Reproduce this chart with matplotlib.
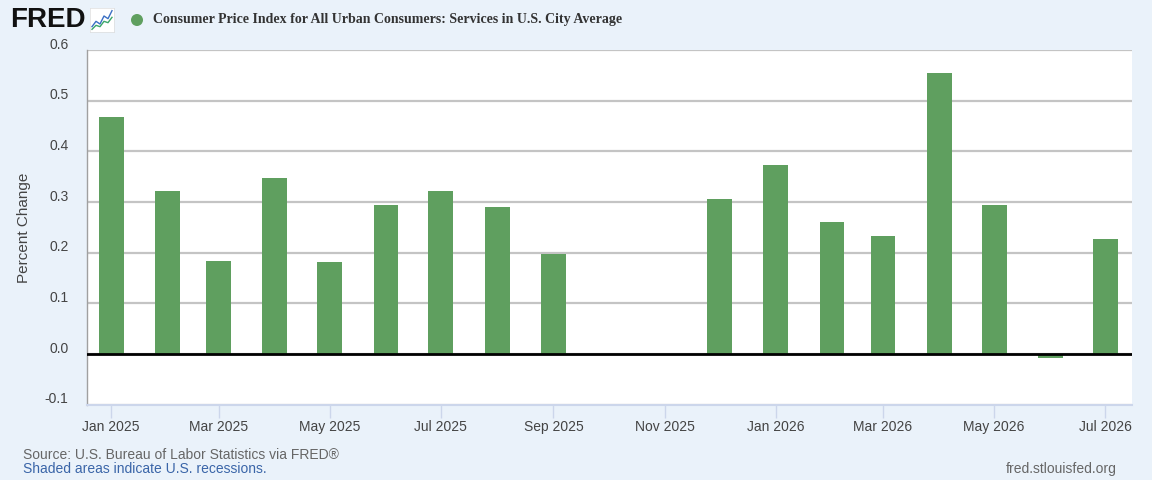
import matplotlib
matplotlib.use('Agg')
import matplotlib.pyplot as plt
import matplotlib.dates as mdates
from matplotlib.transforms import ScaledTranslation
from matplotlib.patches import Ellipse
import datetime as dt

##############################################
##                  Data                    ##
##############################################
months = ['2025-01', '2025-02', '2025-03', '2025-04', '2025-05', '2025-06',
          '2025-07', '2025-08', '2025-09', '2025-10', '2025-11', '2025-12',
          '2026-01', '2026-02', '2026-03', '2026-04', '2026-05', '2026-06',
          '2026-07']
# percent change, None where no observation was published
pct_change = [0.467, 0.322, 0.184, 0.347, 0.182, 0.294,
              0.322, 0.290, 0.197, None, None, 0.305,
              0.374, 0.260, 0.233, 0.554, 0.295, -0.008,
              0.227]

title = 'Consumer Price Index for All Urban Consumers: Services in U.S. City Average'
y_label = 'Percent Change'
source_txt = 'Source: U.S. Bureau of Labor Statistics via FRED\u00ae'
shaded_txt = 'Shaded areas indicate U.S. recessions.'
site_txt = 'fred.stlouisfed.org'

# colors
bg_color = '#eaf2fa'
bar_color = '#5f9f5f'
grid_color = '#c4c4c4'
axis_color = '#ccd6eb'
text_color = '#444444'

plt.rcParams['font.family'] = ['Liberation Sans', 'DejaVu Sans']

dates = [dt.datetime.strptime(m, '%Y-%m') for m in months]
bar_dates = [d for d, v in zip(dates, pct_change) if v is not None]
bar_vals = [v for v in pct_change if v is not None]

##############################################
##                 Figure                   ##
##############################################
fig = plt.figure(figsize=(11.52, 4.8), dpi=100, facecolor=bg_color)
ax = fig.add_axes([0.0751, 0.1569, 0.9075, 0.7389])
ax.set_facecolor('white')

ax.bar(bar_dates, bar_vals, width=13.7, color=bar_color, zorder=2)
ax.axhline(0, color='black', lw=2, zorder=3)

ax.set_xlim(dt.datetime(2024, 12, 18, 12), dt.datetime(2026, 7, 15, 18))
ax.set_ylim(-0.1, 0.6)
ax.set_yticks([-0.1, 0.0, 0.1, 0.2, 0.3, 0.4, 0.5, 0.6])
ax.yaxis.set_major_formatter(matplotlib.ticker.FormatStrFormatter('%.1f'))
ax.grid(axis='y', color=grid_color, lw=1.6, zorder=0)
ax.set_axisbelow(True)

ax.xaxis.set_major_locator(mdates.MonthLocator(bymonth=[1, 3, 5, 7, 9, 11]))
ax.xaxis.set_major_formatter(mdates.DateFormatter('%b %Y'))

for s in ['top', 'right']:
    ax.spines[s].set_visible(False)
ax.spines['bottom'].set_color(axis_color)
ax.spines['bottom'].set_linewidth(1.5)
ax.spines['left'].set_color('#a0a0a0')
ax.spines['left'].set_linewidth(1)

ax.tick_params(axis='x', direction='out', length=9, width=1, color=axis_color,
               labelsize=10, labelcolor=text_color, pad=2)
ax.tick_params(axis='y', length=0, labelsize=10, labelcolor=text_color, pad=13)

# FRED puts y labels just above the grid lines
shift = ScaledTranslation(0, 7 / 100, fig.dpi_scale_trans)
for lbl in ax.get_yticklabels():
    lbl.set_transform(lbl.get_transform() + shift)

ax.set_ylabel(y_label, fontsize=11, color=text_color)
ax.yaxis.set_label_coords(-0.053, 0.5)

##############################################
##             Header & footer              ##
##############################################
fig.text(10 / 1152, 1 - 20 / 480, 'FRED', fontsize=20, fontweight='bold',
         color='#111111', va='center', ha='left')

# small logo chart
icon = fig.add_axes([90 / 1152, 1 - 32 / 480, 24 / 1152, 24 / 480])
icon.set_facecolor('white')
icon.plot([0, 1, 2, 3, 4, 5], [1, 3, 2, 5, 4, 7], color='#3a6fc4', lw=1)
icon.plot([0, 1, 2, 3, 4, 5], [0, 1.5, 1, 3, 2.5, 4.5], color='#3aa66a', lw=1)
icon.set_xlim(-0.5, 5.5)
icon.set_ylim(-1, 8)
icon.set_xticks([])
icon.set_yticks([])
for s in icon.spines.values():
    s.set_color('#dddddd')
    s.set_linewidth(0.5)

# legend dot
fig.patches.append(Ellipse((137 / 1152, 1 - 20 / 480), 12 / 1152, 12 / 480,
                           transform=fig.transFigure, facecolor=bar_color, edgecolor='none'))

fig.text(153 / 1152, 1 - 20 / 480, title, fontsize=10, fontweight='bold',
         family=['Liberation Serif', 'DejaVu Serif'], color='#333333', va='center', ha='left')

fig.text(23 / 1152, 1 - 455 / 480, source_txt, fontsize=10, color='#666666',
         va='center', ha='left')
fig.text(23 / 1152, 1 - 469 / 480, shaded_txt, fontsize=10, color='#3a65a8',
         va='center', ha='left')
fig.text(1117 / 1152, 1 - 469 / 480, site_txt, fontsize=10, color='#666666',
         va='center', ha='right')

plt.savefig('out.png', dpi=100, facecolor=bg_color)
